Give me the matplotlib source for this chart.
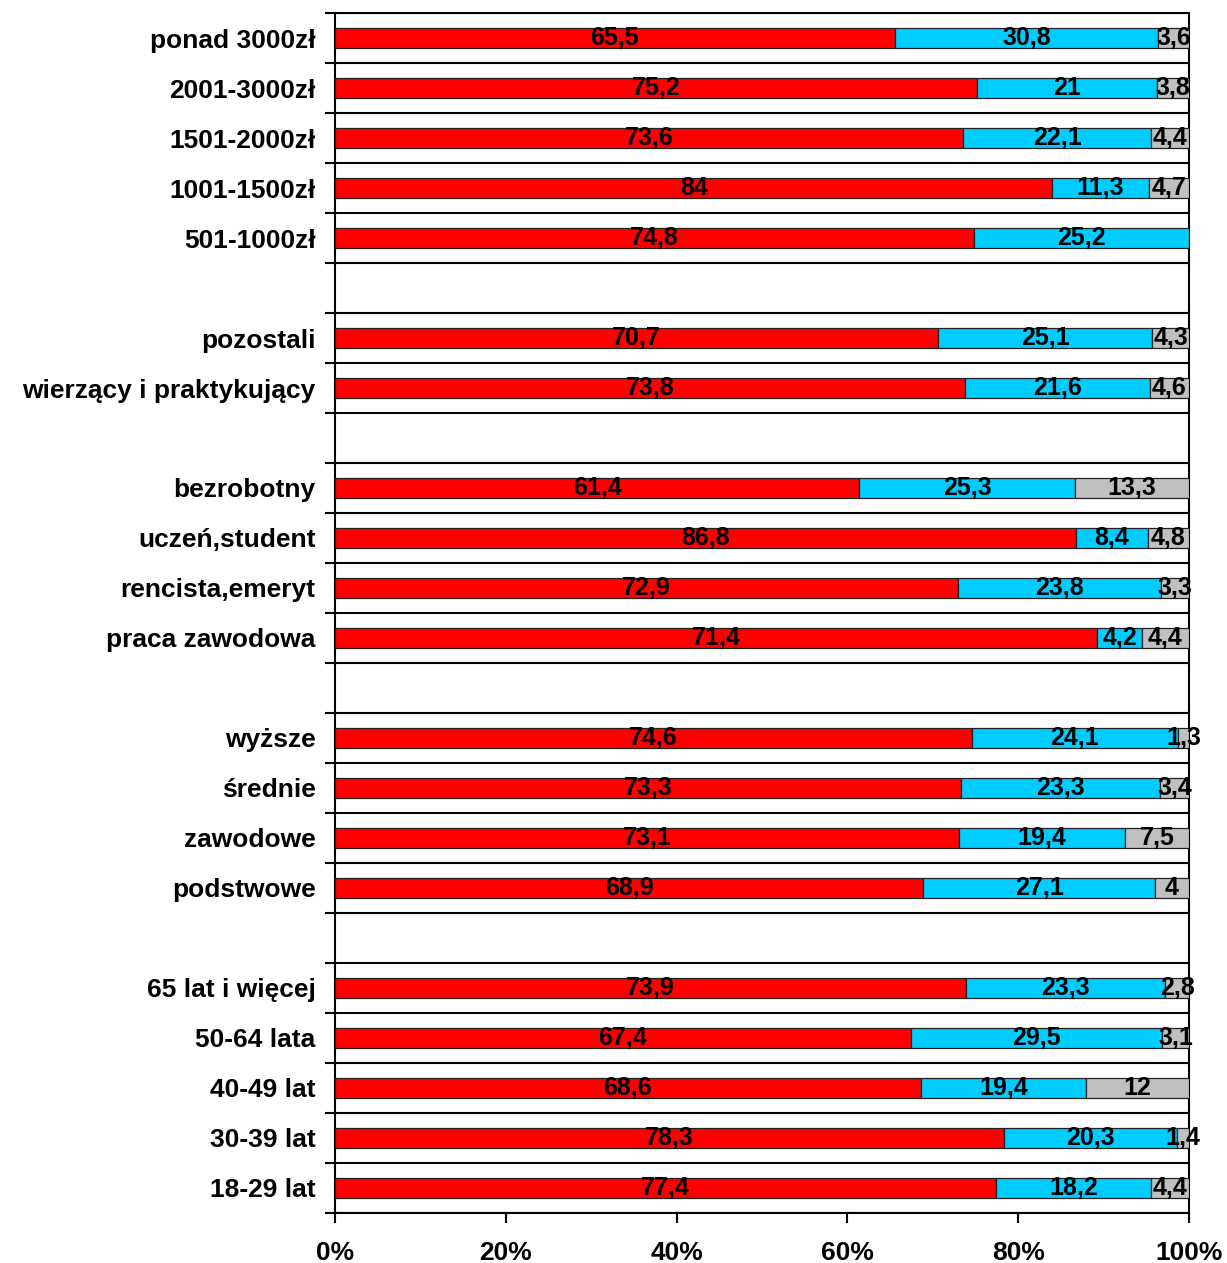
import numpy as np
import matplotlib.pyplot as plt

plt.rcParams['font.family'] = ['Liberation Sans', 'DejaVu Sans']
plt.rcParams['font.weight'] = 'bold'

# top to bottom, '' marks the empty separator rows
categories = ['ponad 3000zł', '2001-3000zł', '1501-2000zł', '1001-1500zł', '501-1000zł', '',
              'pozostali', 'wierzący i praktykujący', '',
              'bezrobotny', 'uczeń,student', 'rencista,emeryt', 'praca zawodowa', '',
              'wyższe', 'średnie', 'zawodowe', 'podstwowe', '',
              '65 lat i więcej', '50-64 lata', '40-49 lat', '30-39 lat', '18-29 lat']
red = [65.5, 75.2, 73.6, 84, 74.8, 0, 70.7, 73.8, 0, 61.4, 86.8, 72.9, 71.4, 0,
       74.6, 73.3, 73.1, 68.9, 0, 73.9, 67.4, 68.6, 78.3, 77.4]
blue = [30.8, 21, 22.1, 11.3, 25.2, 0, 25.1, 21.6, 0, 25.3, 8.4, 23.8, 4.2, 0,
        24.1, 23.3, 19.4, 27.1, 0, 23.3, 29.5, 19.4, 20.3, 18.2]
grey = [3.6, 3.8, 4.4, 4.7, 0, 0, 4.3, 4.6, 0, 13.3, 4.8, 3.3, 4.4, 0,
        1.3, 3.4, 7.5, 4, 0, 2.8, 3.1, 12, 1.4, 4.4]
colors = ['#FF0000', '#00CCFF', '#C0C0C0']

series = np.array([red, blue, grey], dtype=float)
tot = series.sum(axis=0)
tot[tot == 0] = 1
shares = series / tot * 100

fig = plt.figure(figsize=(12.27, 12.63), dpi=100)
ax = fig.add_axes([0.273, 0.0396, 0.696, 0.9501])
y = np.arange(len(categories))

left = np.zeros(len(categories))
for vals, sh, col in zip(series, shares, colors):
    bars = ax.barh(y, sh, left=left, height=0.4, color=col, edgecolor='#222222', linewidth=0.9, zorder=3)
    for b, v in zip(bars, vals):
        if v == 0:
            b.set_visible(False)
    labs = [f'{v:g}'.replace('.', ',') if v > 0 else '' for v in vals]
    ax.bar_label(bars, labels=labs, label_type='center', fontsize=18, fontweight='bold', color='black', zorder=4)
    left += sh

ax.set_xlim(0, 100)
ax.set_ylim(len(categories) - 0.5, -0.5)
ax.set_yticks(y)
ax.set_yticklabels(categories, fontsize=19, fontweight='bold')
ax.set_yticks(np.arange(len(categories) + 1) - 0.5, minor=True)
ax.tick_params(axis='y', which='major', length=0, pad=14)
ax.tick_params(axis='y', which='minor', length=7, width=1.5, direction='out')
ax.grid(axis='y', which='minor', color='black', linewidth=1.5, zorder=1)

ax.set_xticks(np.arange(0, 101, 20))
ax.set_xticklabels([f'{t}%' for t in range(0, 101, 20)], fontsize=19, fontweight='bold')
ax.tick_params(axis='x', length=7, width=1.5, direction='out', pad=13)

for s in ax.spines.values():
    s.set_linewidth(1.5)

fig.savefig('out.png', dpi=100)
